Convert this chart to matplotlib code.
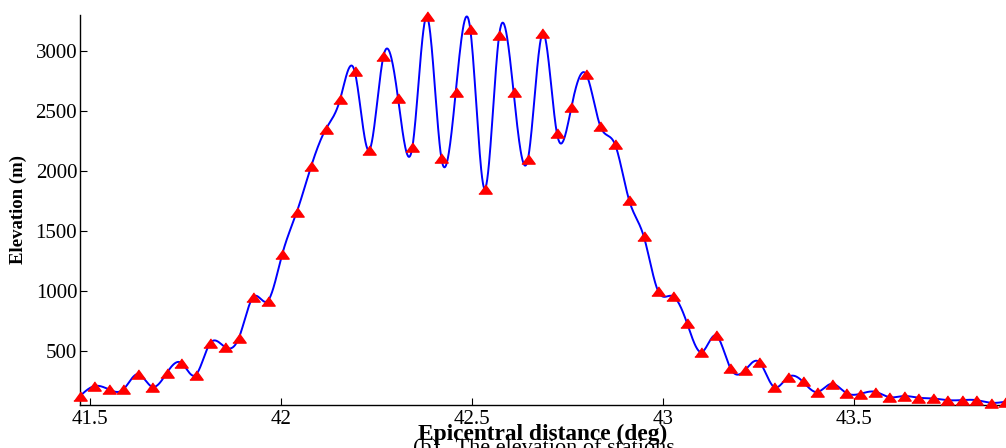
#!/usr/bin/env python3
"""
Elevation profile along the epicentral-distance line.

Red triangles are the sampled elevations, the blue curve is a cubic
spline through them (as in the original figure).
"""

import matplotlib
matplotlib.use("Agg")
import matplotlib.pyplot as plt
import numpy as np

# Epicentral distance of each sample (deg)
distance = [
    41.4738, 41.5116, 41.5495, 41.5873, 41.6252, 41.6630, 41.7008, 41.7387,
    41.7765, 41.8144, 41.8522, 41.8900, 41.9279, 41.9657, 42.0036, 42.0414,
    42.0792, 42.1171, 42.1549, 42.1928, 42.2306, 42.2684, 42.3063, 42.3441,
    42.3820, 42.4198, 42.4576, 42.4955, 42.5333, 42.5712, 42.6090, 42.6468,
    42.6847, 42.7225, 42.7604, 42.7982, 42.8360, 42.8739, 42.9117, 42.9496,
    42.9874, 43.0252, 43.0631, 43.1009, 43.1388, 43.1766, 43.2144, 43.2523,
    43.2901, 43.3280, 43.3658, 43.4036, 43.4415, 43.4793, 43.5172, 43.5550,
    43.5928, 43.6307, 43.6685, 43.7064, 43.7442, 43.7820, 43.8199, 43.8577,
    43.8956,
]

# Elevation at each sample (m)
elevation = [
    127, 210, 182, 182, 310, 204, 318, 404, 302, 566, 538, 613, 954, 921,
    1312, 1660, 2043, 2349, 2599, 2835, 2174, 2960, 2613, 2202, 3290, 2113,
    2660, 3188, 1854, 3132, 2660, 2104, 3149, 2316, 2535, 2812, 2377, 2229,
    1757, 1460, 1002, 960, 735, 493, 632, 360, 341, 410, 204, 285, 249, 160,
    229, 154, 146, 163, 118, 127, 113, 107, 93, 93, 93, 71, 79,
]

y_ticks = [500, 1000, 1500, 2000, 2500, 3000]
x_ticks = [41.5, 42, 42.5, 43, 43.5]
x_ticklabels = ["41.5", "42", "42.5", "43", "43.5"]


def cubic_spline(x, y, xs):
    """Natural cubic spline through (x, y), evaluated at xs."""
    x = np.asarray(x, float)
    y = np.asarray(y, float)
    n = len(x)
    h = np.diff(x)
    A = np.zeros((n, n))
    b = np.zeros(n)
    A[0, 0] = A[-1, -1] = 1.0
    for i in range(1, n - 1):
        A[i, i - 1] = h[i - 1]
        A[i, i] = 2 * (h[i - 1] + h[i])
        A[i, i + 1] = h[i]
        b[i] = 6 * ((y[i + 1] - y[i]) / h[i] - (y[i] - y[i - 1]) / h[i - 1])
    M = np.linalg.solve(A, b)

    k = np.clip(np.searchsorted(x, xs) - 1, 0, n - 2)
    hk = h[k]
    t0 = x[k + 1] - xs
    t1 = xs - x[k]
    return (M[k] * t0 ** 3 / (6 * hk) + M[k + 1] * t1 ** 3 / (6 * hk)
            + (y[k] / hk - M[k] * hk / 6) * t0
            + (y[k + 1] / hk - M[k + 1] * hk / 6) * t1)


def main():
    plt.rcParams["font.family"] = ["Liberation Serif", "DejaVu Serif"]

    fig = plt.figure(figsize=(10.06, 4.48), dpi=100)
    ax = fig.add_axes([0.0795, 0.0967, 0.9195, 0.8698])

    xs = np.linspace(distance[0], distance[-1], 2000)
    ax.plot(xs, cubic_spline(distance, elevation, xs), color="#0000FF", lw=1.4)

    tri = [(-1, -0.69), (1, -0.69), (0, 0.69)]
    ax.plot(distance, elevation, linestyle="none", marker=tri, ms=9.6,
            color="#FF0000", mec="#FF0000", clip_on=False, zorder=3)

    ax.set_xlim(distance[0], distance[-1])
    ax.set_ylim(55, 3302)
    ax.set_xticks(x_ticks)
    ax.set_xticklabels(x_ticklabels)
    ax.set_yticks(y_ticks)

    for side in ["top", "right"]:
        ax.spines[side].set_visible(False)
    for side in ["left", "bottom"]:
        ax.spines[side].set_linewidth(1.0)

    ax.tick_params(direction="in", length=5, width=0.8, labelsize=15)
    ax.tick_params(axis="y", pad=2)
    ax.tick_params(axis="x", pad=4)

    ax.set_xlabel("Epicentral distance (deg)", fontsize=16.8, fontweight="bold")
    ax.xaxis.set_label_coords(0.5, -0.048)
    ax.set_ylabel("Elevation (m)", fontsize=13.5, fontweight="bold")
    ax.yaxis.set_label_coords(-0.0573, 0.5)

    # caption of the sub-figure, mostly cut off at the bottom edge
    fig.text(413 / 1006, 0.021, "(b)   The elevation of stations",
             fontsize=16, ha="left", va="top")

    fig.savefig("out.png", dpi=100)
    print("Saved out.png")


if __name__ == "__main__":
    main()
